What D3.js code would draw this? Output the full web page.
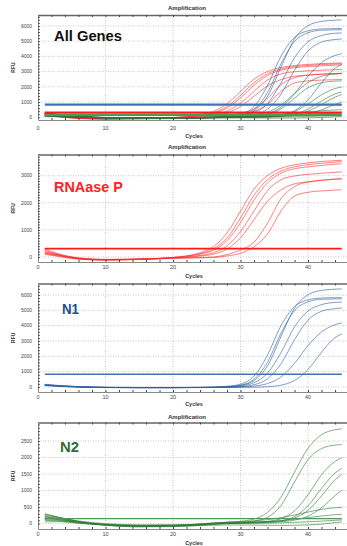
<!DOCTYPE html>
<html>
<head>
<meta charset="utf-8">
<script src="https://cdn.jsdelivr.net/npm/d3@7"></script>
<style>
  body { margin: 0; background: #fff; }
  svg { display: block; }
</style>
</head>
<body>
<div id="chart"></div>
<script>
// Cycle numbers at which the RFU values were read
var cycles = [1, 3, 6, 10, 15, 20, 24, 26, 28, 30, 32, 34, 36, 38, 40, 42, 44, 45];

// RNAase P wells
var rnaseP = [
  [200, 80, -50, -100, -80, -15, 157, 385, 888, 1695, 2502, 3005, 3273, 3400, 3473, 3525, 3555, 3570],
  [150, 60, -60, -110, -80, -17, 122, 300, 703, 1442, 2277, 2858, 3175, 3327, 3407, 3460, 3500, 3520],
  [250, 100, -40, -90, -70, -20, 105, 248, 602, 1268, 2103, 2737, 3092, 3255, 3328, 3380, 3425, 3440],
  [120, 40, -70, -110, -90, -40, 57, 156, 411, 939, 1698, 2450, 2850, 2990, 3050, 3090, 3125, 3140],
  [300, 120, -30, -90, -80, -40, 32, 104, 293, 710, 1380, 2060, 2477, 2700, 2770, 2830, 2875, 2890],
  [180, 70, -60, -100, -80, -40, -20, 0, 90, 256, 550, 1250, 2150, 2600, 2770, 2830, 2870, 2880],
  [100, 20, -80, -120, -90, -50, -30, -20, 38, 134, 379, 850, 1700, 2250, 2390, 2440, 2470, 2480]
];

// N1 wells
var n1 = [
  [130, 70, 10, -30, -40, -40, -30, -20, 12, 100, 420, 1380, 3300, 5140, 6020, 6300, 6380, 6400],
  [180, 100, 20, -20, -30, -30, -20, -7, 45, 190, 710, 2085, 4015, 5245, 5680, 5805, 5825, 5830],
  [120, 60, 0, -30, -40, -40, -30, -20, 16, 121, 502, 1621, 3518, 4980, 5554, 5721, 5745, 5750],
  [160, 90, 20, -20, -30, -30, -25, -15, 11, 75, 280, 904, 2252, 3917, 4959, 5371, 5520, 5540],
  [100, 50, 0, -30, -40, -40, -30, -25, -10, 26, 148, 537, 1519, 3088, 4359, 4940, 5110, 5150],
  [140, 80, 10, -30, -40, -40, -30, -25, -15, 4, 61, 224, 659, 1545, 2705, 3591, 4060, 4180],
  [90, 40, -10, -40, -50, -50, -40, -35, -30, -25, -15, 18, 120, 422, 1142, 2261, 3223, 3460]
];

// N2 wells
var n2 = [
  [150, 120, 50, -20, -50, -50, -20, 10, 41, 70, 140, 340, 800, 1560, 2280, 2690, 2840, 2870],
  [300, 200, 60, -50, -100, -90, -50, -20, 10, 30, 80, 190, 550, 1260, 1940, 2270, 2375, 2390],
  [200, 150, 40, -40, -80, -70, -30, 0, 20, 30, 40, 70, 150, 385, 875, 1480, 1885, 1990],
  [100, 80, 20, -40, -60, -60, -40, -20, 0, 10, 20, 35, 80, 210, 540, 1065, 1530, 1670],
  [250, 180, 80, 0, -40, -40, -10, 20, 40, 45, 50, 60, 85, 170, 400, 840, 1325, 1500],
  [280, 190, 70, -40, -90, -80, -40, -10, 10, 20, 30, 40, 60, 105, 225, 480, 845, 1010],
  [180, 130, 40, -30, -60, -50, -10, 20, 40, 60, 80, 120, 180, 260, 350, 430, 480, 495],
  [120, 100, 30, -30, -60, -50, -20, 0, 20, 30, 45, 60, 90, 130, 180, 230, 270, 283],
  [220, 160, 50, -30, -70, -60, -30, -10, 0, 5, 10, 15, 25, 40, 55, 75, 100, 110],
  [50, 60, 10, -50, -80, -80, -60, -50, -40, -40, -45, -50, -55, -50, -40, -15, 30, 50]
];

// Threshold levels
var thresholdRnaseP = 310;
var thresholdN1 = 830;
var thresholdN2 = 150;

// Tick labels
var xTicks = [0, 10, 20, 30, 40];
var yTicksAll = [0, 1000, 2000, 3000, 4000, 5000, 6000];
var yTicksRnaseP = [0, 1000, 2000, 3000];
var yTicksN1 = [0, 1000, 2000, 3000, 4000, 5000, 6000];
var yTicksN2 = [0, 500, 1000, 1500, 2000, 2500];

var series = {
  rnaseP: { data: rnaseP, threshold: thresholdRnaseP, curve: '#ff2b2b', line: '#ff1a1a' },
  n1: { data: n1, threshold: thresholdN1, curve: '#2c5f9e', line: '#3f73b3' },
  n2: { data: n2, threshold: thresholdN2, curve: '#2f7a36', line: '#4e9a55' }
};

var panels = [
  { top: 15, bottom: 120, yMin: -180, yMax: 6720, yTicks: yTicksAll, minor: 200,
    title: 8, xLab: 128, cyc: 136, sets: ['rnaseP', 'n1', 'n2'], thick: 2.2,
    label: 'All Genes', labelColor: '#111', lx: 54, ly: 41, lw: 68, fs: 15 },
  { top: 154.5, bottom: 262, yMin: -185, yMax: 3782, yTicks: yTicksRnaseP, minor: 100,
    title: 147, xLab: 267.5, cyc: 276, sets: ['rnaseP'], thick: 1.6,
    label: 'RNAase P', labelColor: '#ff2222', lx: 54, ly: 192, lw: 69, fs: 15 },
  { top: 283.5, bottom: 392, yMin: -326, yMax: 6750, yTicks: yTicksN1, minor: 200,
    title: null, xLab: 397, cyc: 404.5, sets: ['n1'], thick: 1.6,
    label: 'N1', labelColor: '#1f4e8c', lx: 62, ly: 314, lw: 17, fs: 14 },
  { top: 422.5, bottom: 529, yMin: -163, yMax: 3060, yTicks: yTicksN2, minor: 100,
    title: 416.5, xLab: 534, cyc: 543, sets: ['n2'], thick: 1.3,
    label: 'N2', labelColor: '#2e6e33', lx: 60, ly: 451.5, lw: 19, fs: 14 }
];

var width = 347, height = 546;
var svg = d3.select('#chart').append('svg')
  .attr('width', width)
  .attr('height', height)
  .style('font-family', "'Liberation Sans', Arial, sans-serif");

var xScale = d3.scaleLinear().domain([0, 45.8]).range([38, 347.2]);
var left = xScale.range()[0], right = xScale.range()[1];

panels.forEach(function(p, i) {
  var yScale = d3.scaleLinear().domain([p.yMin, p.yMax]).range([p.bottom, p.top]);
  var g = svg.append('g');

  var clipId = 'clip' + i;
  g.append('clipPath').attr('id', clipId).append('rect')
    .attr('x', left).attr('y', p.top)
    .attr('width', right - left).attr('height', p.bottom - p.top);

  // dotted grid
  g.selectAll('.vgrid').data(xTicks.slice(1)).enter().append('line')
    .attr('x1', function(d) { return xScale(d); })
    .attr('x2', function(d) { return xScale(d); })
    .attr('y1', p.top).attr('y2', p.bottom)
    .attr('stroke', '#b8b8b8').attr('stroke-width', 0.8)
    .attr('stroke-dasharray', '1,1.5');
  g.selectAll('.hgrid').data(p.yTicks).enter().append('line')
    .attr('x1', left).attr('x2', right)
    .attr('y1', function(d) { return yScale(d); })
    .attr('y2', function(d) { return yScale(d); })
    .attr('stroke', '#b8b8b8').attr('stroke-width', 0.8)
    .attr('stroke-dasharray', '1,1.5');

  var line = d3.line()
    .x(function(d, j) { return xScale(cycles[j]); })
    .y(function(d) { return yScale(d); })
    .curve(d3.curveMonotoneX);

  var plot = g.append('g').attr('clip-path', 'url(#' + clipId + ')');

  // amplification curves
  p.sets.forEach(function(key) {
    var s = series[key];
    plot.append('g').selectAll('path').data(s.data).enter().append('path')
      .attr('d', line)
      .attr('fill', 'none')
      .attr('stroke', s.curve)
      .attr('stroke-opacity', 0.6)
      .attr('stroke-width', 1);
  });

  // threshold lines
  p.sets.forEach(function(key) {
    var s = series[key];
    plot.append('line')
      .attr('x1', xScale(1)).attr('x2', xScale(45))
      .attr('y1', yScale(s.threshold)).attr('y2', yScale(s.threshold))
      .attr('stroke', s.line)
      .attr('stroke-width', p.thick);
  });

  // frame with inward minor ticks
  g.append('g')
    .attr('transform', 'translate(0,' + p.bottom + ')')
    .call(d3.axisBottom(xScale).tickValues(d3.range(0, 46, 2)).tickSize(-2).tickSizeOuter(0).tickFormat(''))
    .call(function(a) {
      a.select('.domain').attr('stroke', '#888');
      a.selectAll('.tick line').attr('stroke', '#444');
    });
  g.append('g')
    .attr('transform', 'translate(0,' + p.top + ')')
    .call(d3.axisTop(xScale).tickValues(d3.range(0, 46, 2)).tickSize(-2).tickSizeOuter(0).tickFormat(''))
    .call(function(a) {
      a.select('.domain').attr('stroke', '#666').attr('stroke-width', 1.5);
      a.selectAll('.tick line').attr('stroke', '#444');
    });
  g.append('g')
    .attr('transform', 'translate(' + left + ',0)')
    .call(d3.axisLeft(yScale).tickValues(d3.range(0, p.yMax, p.minor)).tickSize(-2).tickSizeOuter(0).tickFormat(''))
    .call(function(a) {
      a.select('.domain').attr('stroke', '#888');
      a.selectAll('.tick line').attr('stroke', '#555');
    });

  // tick labels
  g.selectAll('.xl').data(xTicks).enter().append('text')
    .attr('x', function(d) { return xScale(d); })
    .attr('y', p.xLab)
    .attr('dy', '0.35em')
    .attr('text-anchor', 'middle')
    .attr('font-size', 5.5)
    .attr('fill', '#444')
    .text(function(d) { return d; });
  g.selectAll('.yl').data(p.yTicks).enter().append('text')
    .attr('x', left - 6)
    .attr('y', function(d) { return yScale(d); })
    .attr('dy', '0.35em')
    .attr('text-anchor', 'end')
    .attr('font-size', 5)
    .attr('fill', '#444')
    .text(function(d) { return d; });

  // axis titles
  if (p.title !== null) {
    g.append('text')
      .attr('x', 187).attr('y', p.title).attr('dy', '0.35em')
      .attr('text-anchor', 'middle')
      .attr('font-size', 6).attr('font-weight', 'bold').attr('fill', '#333')
      .text('Amplification');
  }
  g.append('text')
    .attr('x', 194).attr('y', p.cyc).attr('dy', '0.35em')
    .attr('text-anchor', 'middle')
    .attr('font-size', 5.5).attr('font-weight', 'bold').attr('fill', '#333')
    .text('Cycles');
  g.append('text')
    .attr('transform', 'translate(13,' + (p.top + p.bottom) / 2 + ') rotate(-90)')
    .attr('dy', '0.35em')
    .attr('text-anchor', 'middle')
    .attr('font-size', 5).attr('font-weight', 'bold').attr('fill', '#333')
    .text('RFU');

  // panel label
  g.append('text')
    .attr('x', p.lx).attr('y', p.ly)
    .attr('font-size', p.fs).attr('font-weight', 'bold')
    .attr('fill', p.labelColor)
    .attr('textLength', p.lw).attr('lengthAdjust', 'spacingAndGlyphs')
    .text(p.label);
});
</script>
</body>
</html>
